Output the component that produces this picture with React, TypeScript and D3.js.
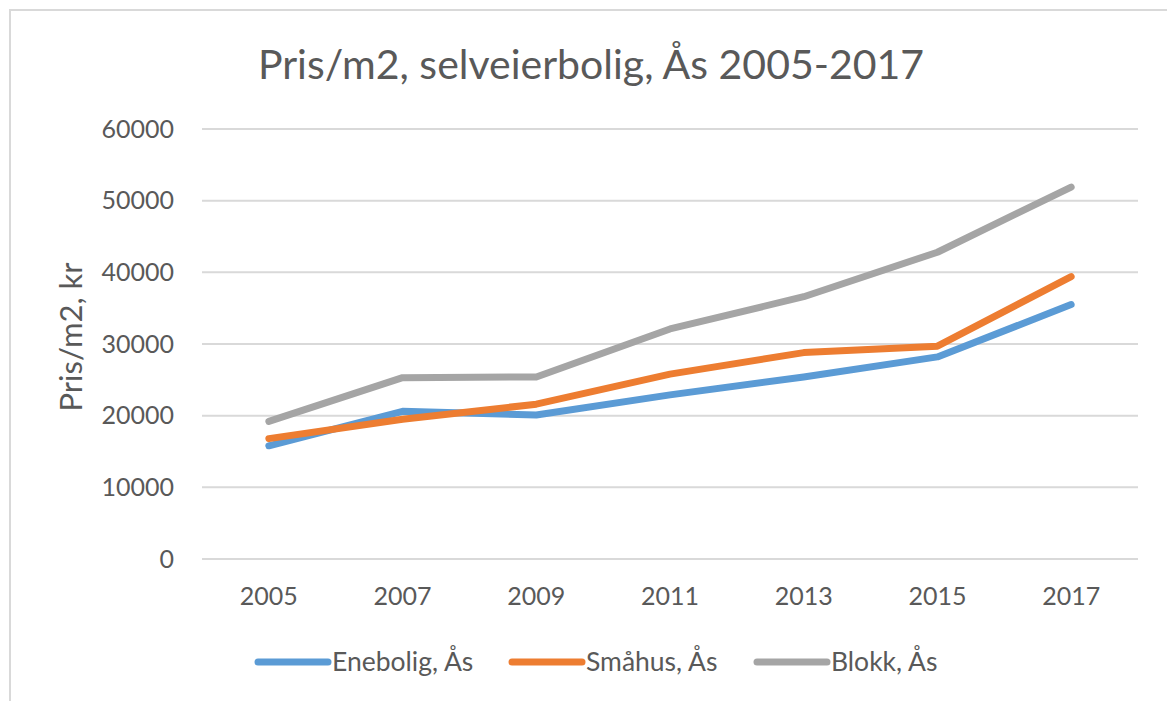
import React from 'react';
import * as d3 from 'd3';

const years = ['2005', '2007', '2009', '2011', '2013', '2015', '2017'];
const enebolig = [15800, 20600, 20100, 22900, 25400, 28200, 35500];
const smahus = [16800, 19500, 21600, 25800, 28800, 29700, 39400];
const blokk = [19200, 25300, 25400, 32100, 36600, 42800, 51900];
const yTicks = [0, 10000, 20000, 30000, 40000, 50000, 60000];

const series = [
  { name: 'Enebolig, Ås', values: enebolig, color: '#5B9BD5' },
  { name: 'Småhus, Ås', values: smahus, color: '#ED7D31' },
  { name: 'Blokk, Ås', values: blokk, color: '#A5A5A5' },
];

const font = 'Lato, "Open Sans", sans-serif';
const textColor = '#595959';

export default function App() {
  const width = 1167;
  const height = 701;
  const left = 202, right = 1138, top = 129, bottom = 559;

  const x = d3.scaleBand().domain(years).range([left, right]);
  const y = d3.scaleLinear().domain([0, 60000]).range([bottom, top]);

  const line = d3.line<number>()
    .x((d, i) => (x(years[i]) as number) + x.bandwidth() / 2)
    .y(d => y(d));

  const legendX = [258, 512, 757];

  return (
    <svg width={width} height={height} style={{ position: 'absolute', left: 0, top: 0 }}>
      <rect x={0} y={0} width={width} height={height} fill="#fff" />
      <rect x={10} y={10} width={1180} height={720} fill="none" stroke="#d9d9d9" strokeWidth={2} />
      <text x={591} y={79} textAnchor="middle" fontFamily={font} fontSize={41} fill={textColor}>
        Pris/m2, selveierbolig, Ås 2005-2017
      </text>
      {yTicks.map(t => (
        <g key={t}>
          <line x1={left} x2={right} y1={y(t)} y2={y(t)} stroke="#d9d9d9" strokeWidth={2} />
          <text x={174} y={y(t)} dy="0.35em" textAnchor="end" fontFamily={font} fontSize={25} fill={textColor}>
            {t}
          </text>
        </g>
      ))}
      {years.map(yr => (
        <text key={yr} x={(x(yr) as number) + x.bandwidth() / 2} y={605} textAnchor="middle"
          fontFamily={font} fontSize={25} fill={textColor}>
          {yr}
        </text>
      ))}
      <text transform="translate(82,337) rotate(-90)" textAnchor="middle" fontFamily={font} fontSize={31} fill={textColor}>
        Pris/m2, kr
      </text>
      {series.map(s => (
        <path key={s.name} d={line(s.values) || ''} fill="none" stroke={s.color} strokeWidth={7}
          strokeLinecap="round" strokeLinejoin="round" />
      ))}
      {series.map((s, i) => (
        <g key={s.name}>
          <line x1={legendX[i]} x2={legendX[i] + 70} y1={662} y2={662} stroke={s.color} strokeWidth={7} strokeLinecap="round" />
          <text x={legendX[i] + 74} y={662} dy="0.35em" fontFamily={font} fontSize={26.5} fill={textColor}>
            {s.name}
          </text>
        </g>
      ))}
    </svg>
  );
}
